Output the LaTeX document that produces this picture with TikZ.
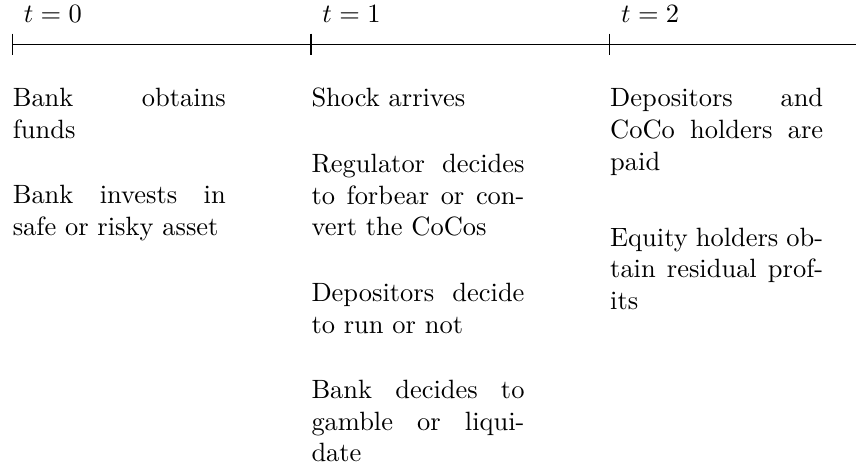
\documentclass[tikz,border=0pt]{standalone}
\usepackage{amsmath}
\usetikzlibrary{positioning}

\begin{document}
\begin{tikzpicture}[
    node distance=0.605cm,
    event/.style={rectangle, inner sep=0pt, text width=2.83cm, align=justify, anchor=north west},
    stamp/.style={inner sep=0pt}
]

% Frame
\useasboundingbox (-0.163,0.585) rectangle (11.211,-5.568);

% Time axis
\coordinate (t0) at (0,0);
\coordinate (t1) at (3.969,0);
\coordinate (t2) at (7.938,0);
\coordinate (tend) at (11.211,0);

\node (lab0) [stamp, above right=0.275cm and 0.146cm of t0] {$t=0$};
\node (lab1) [stamp, above right=0.275cm and 0.146cm of t1] {$t=1$};
\node (lab2) [stamp, above right=0.275cm and 0.146cm of t2] {$t=2$};

% Nodes t=0
\node (funds) [event, below right=0.58cm and 0cm of t0] {Bank obtains funds};
\node (invest) [event, below=of funds] {Bank invests in safe or risky asset};

% Nodes t=1
\node (shock) [event, below right=0.58cm and 0cm of t1] {Shock arrives};
\node (regulator) [event, below=of shock] {Regulator decides to forbear or convert the CoCos};
\node (run) [event, below=of regulator] {Depositors decide to run or not};
\node (gamble) [event, below=of run] {Bank decides to gamble or liquidate};

% Nodes t=2
\node (paid) [event, below right=0.58cm and 0cm of t2] {Depositors and CoCo holders are paid};
\node (equity) [event, below=0.684cm of paid] {Equity holders obtain residual profits};

% Paths
\draw (t0) -- (tend);
\foreach \t in {t0,t1,t2}
    \draw ([yshift=0.1395cm]\t) -- ([yshift=-0.1395cm]\t);

\end{tikzpicture}
\end{document}
